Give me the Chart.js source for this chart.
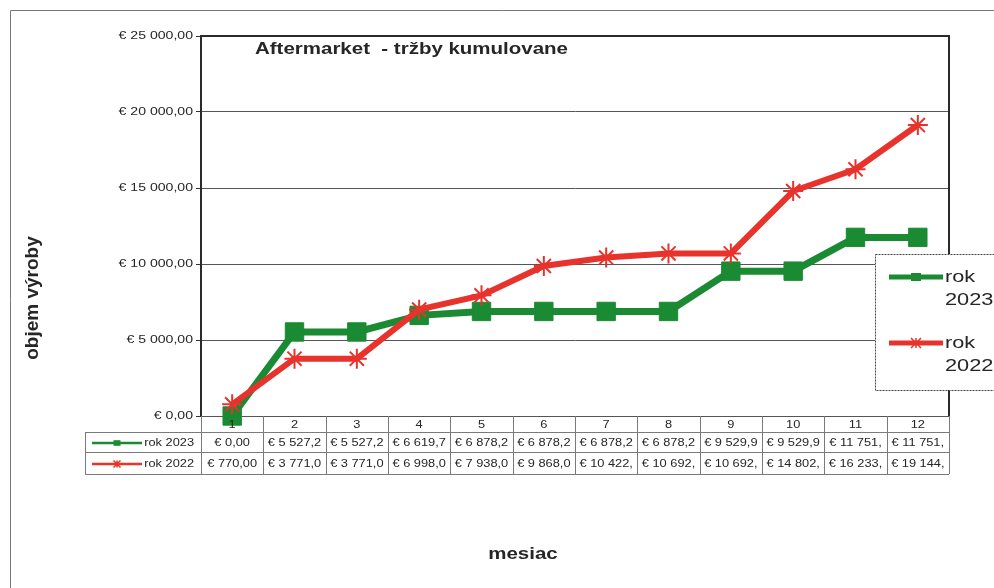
<!DOCTYPE html>
<html>
<head>
<meta charset="utf-8">
<script src="https://cdn.jsdelivr.net/npm/chart.js@4"></script>
<style>
  body { margin: 0; background: #fff; }
  canvas { display: block; }
</style>
</head>
<body>
<canvas id="Chart" width="994" height="588"></canvas>
<script>
// data
var months = ['1', '2', '3', '4', '5', '6', '7', '8', '9', '10', '11', '12']
var rok2023 = [0, 5527.2, 5527.2, 6619.7, 6878.2, 6878.2, 6878.2, 6878.2, 9529.9, 9529.9, 11751, 11751]
var rok2022 = [770, 3771, 3771, 6998, 7938, 9868, 10422, 10692, 10692, 14802, 16233, 19144]
var seriesNames = ['rok 2023', 'rok 2022']
var yTicks = [0, 5000, 10000, 15000, 20000, 25000]

var GREEN = '#1a8a33'
var RED = '#e8332c'
var INK = '#262626'
var SX = 1.28 // the scan is stretched sideways

function euro(v) {
    var parts = v.toFixed(2).split('.')
    var whole = parts[0].replace(/\B(?=(\d{3})+(?!\d))/g, ' ')
    return '€ ' + whole + ',' + parts[1]
}

function txt(ctx, s, x, y, font, align, color) {
    ctx.save()
    ctx.font = font
    ctx.fillStyle = color || INK
    ctx.textAlign = align || 'left'
    ctx.textBaseline = 'middle'
    ctx.translate(x, y)
    ctx.scale(SX, 1)
    ctx.fillText(s, 0, 0)
    ctx.restore()
}

// cut text like excel does when the cell is too narrow
function fit(ctx, s, font, maxW) {
    ctx.save()
    ctx.font = font
    while (s.length > 1 && ctx.measureText(s).width * SX > maxW) {
        s = s.slice(0, -1)
    }
    ctx.restore()
    return s.trim()
}

function drawKey(ctx, x1, x2, y, i, lw, r) {
    ctx.save()
    ctx.strokeStyle = i == 0 ? GREEN : RED
    ctx.lineWidth = lw
    ctx.beginPath()
    ctx.moveTo(x1, y)
    ctx.lineTo(x2, y)
    ctx.stroke()
    var cx = (x1 + x2) / 2
    if (i == 0) {
        ctx.fillStyle = GREEN
        ctx.fillRect(cx - r, y - r * 0.8, r * 2, r * 1.6)
    } else {
        ctx.lineWidth = 1.5
        ctx.beginPath()
        ctx.moveTo(cx - r, y - r); ctx.lineTo(cx + r, y + r)
        ctx.moveTo(cx - r, y + r); ctx.lineTo(cx + r, y - r)
        ctx.moveTo(cx, y - r); ctx.lineTo(cx, y + r)
        ctx.stroke()
    }
    ctx.restore()
}

var sheetPlugin = {
    id: 'sheet',
    beforeDraw(chart) {
        var ctx = chart.ctx
        ctx.save()
        ctx.fillStyle = '#fff'
        ctx.fillRect(0, 0, chart.width, chart.height)
        // outer frame of the sheet
        ctx.strokeStyle = '#777'
        ctx.lineWidth = 1
        ctx.beginPath()
        ctx.moveTo(10.5, 588)
        ctx.lineTo(10.5, 10.5)
        ctx.lineTo(994, 10.5)
        ctx.stroke()
        ctx.restore()
    },
    afterDraw(chart) {
        var ctx = chart.ctx
        var a = chart.chartArea
        var x = chart.scales.x
        var y = chart.scales.y

        // plot frame top and right
        ctx.save()
        ctx.strokeStyle = '#2a2a2a'
        ctx.lineWidth = 2
        ctx.beginPath()
        ctx.moveTo(a.left, a.top)
        ctx.lineTo(a.right, a.top)
        ctx.lineTo(a.right, a.bottom)
        ctx.stroke()
        ctx.restore()

        // y tick labels
        y.ticks.forEach(function (t) {
            txt(ctx, euro(t.value), a.left - 8, y.getPixelForValue(t.value), '11px "Liberation Sans"', 'right')
        })

        // title inside the plot
        txt(ctx, 'Aftermarket  - tržby kumulovane', 255, 50, 'bold 16px "Liberation Sans"', 'left')

        // axis titles
        ctx.save()
        ctx.font = 'bold 19px "Liberation Sans"'
        ctx.fillStyle = INK
        ctx.textAlign = 'center'
        ctx.textBaseline = 'middle'
        ctx.translate(33, 298)
        ctx.rotate(-Math.PI / 2)
        ctx.fillText('objem výroby', 0, 0)
        ctx.restore()
        txt(ctx, 'mesiac', 523, 555, 'bold 16px "Liberation Sans"', 'center')

        // data table under the plot
        var half = (x.getPixelForValue(1) - x.getPixelForValue(0)) / 2
        var rowTop = [a.bottom, a.bottom + 16, a.bottom + 36, a.bottom + 58]
        var tableLeft = 85
        ctx.save()
        ctx.strokeStyle = '#7a7a7a'
        ctx.lineWidth = 1
        ctx.beginPath()
        for (var r = 1; r < rowTop.length; r++) {
            ctx.moveTo(tableLeft, rowTop[r] + 0.5)
            ctx.lineTo(a.right, rowTop[r] + 0.5)
        }
        ctx.moveTo(tableLeft + 0.5, rowTop[1])
        ctx.lineTo(tableLeft + 0.5, rowTop[3])
        for (var i = 0; i <= months.length; i++) {
            var bx = Math.round(x.getPixelForValue(0) - half + i * half * 2) + 0.5
            ctx.moveTo(bx, rowTop[0])
            ctx.lineTo(bx, rowTop[3])
        }
        ctx.stroke()
        ctx.restore()

        var cellFont = '10px "Liberation Sans"'
        var cellW = half * 2 - 5
        months.forEach(function (m, i) {
            var cx = x.getPixelForValue(i)
            txt(ctx, m, cx, (rowTop[0] + rowTop[1]) / 2 + 1, cellFont, 'center')
            txt(ctx, fit(ctx, euro(rok2023[i]), cellFont, cellW), cx, (rowTop[1] + rowTop[2]) / 2 + 1, cellFont, 'center')
            txt(ctx, fit(ctx, euro(rok2022[i]), cellFont, cellW), cx, (rowTop[2] + rowTop[3]) / 2 + 1, cellFont, 'center')
        })
        seriesNames.forEach(function (name, i) {
            var ry = (rowTop[i + 1] + rowTop[i + 2]) / 2 + 1
            drawKey(ctx, 92, 142, ry, i, 2.5, 3.5)
            txt(ctx, name, 194, ry, cellFont, 'right')
        })

        // legend box on the right
        ctx.save()
        ctx.fillStyle = '#fff'
        ctx.fillRect(875, 254, 130, 136)
        ctx.strokeStyle = '#444'
        ctx.lineWidth = 1
        ctx.setLineDash([2, 1])
        ctx.strokeRect(875.5, 254.5, 130, 136)
        ctx.restore()
        var legendFont = '17px "Liberation Sans"'
        seriesNames.forEach(function (name, i) {
            var ly = i == 0 ? 277 : 343
            drawKey(ctx, 889, 943, ly, i, 5, 5)
            var words = name.split(' ')
            txt(ctx, words[0], 945, ly, legendFont, 'left')
            txt(ctx, words[1], 945, ly + 23, legendFont, 'left')
        })
    }
}

var ctx = document.getElementById('Chart').getContext('2d')
var myChart = new Chart(ctx, {
    type: 'line',
    data: {
        labels: months,
        datasets: [{
            label: seriesNames[0],
            data: rok2023,
            borderColor: GREEN,
            backgroundColor: GREEN,
            borderWidth: 7,
            pointStyle: 'rect',
            pointRadius: 13,
            pointBackgroundColor: GREEN,
            pointBorderColor: GREEN,
            pointBorderWidth: 1,
            tension: 0,
            clip: false,
            order: 1
        }, {
            label: seriesNames[1],
            data: rok2022,
            borderColor: RED,
            backgroundColor: RED,
            borderWidth: 6,
            pointStyle: 'star',
            pointRadius: 10,
            pointBorderColor: RED,
            pointBorderWidth: 2,
            tension: 0,
            clip: false,
            order: 0
        }]
    },
    options: {
        responsive: false,
        animation: false,
        devicePixelRatio: 1,
        layout: { padding: { left: 0, top: 36, right: 45, bottom: 172 } },
        plugins: {
            legend: { display: false },
            tooltip: { enabled: false },
            title: { display: false }
        },
        scales: {
            x: {
                type: 'category',
                offset: true,
                display: false
            },
            y: {
                min: 0,
                max: 25000,
                afterBuildTicks(scale) {
                    scale.ticks = yTicks.map(function (v) { return { value: v } })
                },
                afterFit(scale) {
                    scale.width = 201
                },
                ticks: { display: false },
                grid: {
                    color: '#555',
                    lineWidth: 1,
                    drawTicks: true,
                    tickLength: 5,
                    tickColor: '#333'
                },
                border: { color: '#2a2a2a', width: 2 }
            }
        }
    },
    plugins: [sheetPlugin]
})
</script>
</body>
</html>
